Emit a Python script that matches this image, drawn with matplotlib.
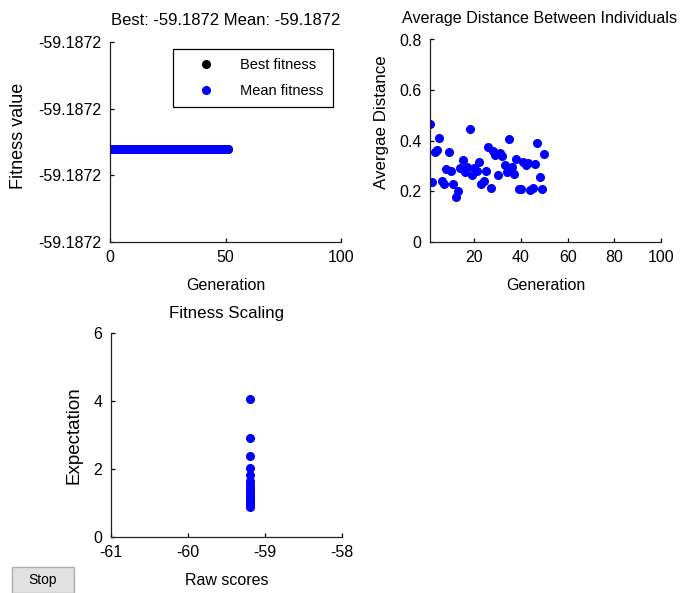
import numpy as np
import matplotlib
matplotlib.use("Agg")
from matplotlib import pyplot as plt
from matplotlib.patches import Rectangle
from matplotlib.ticker import FuncFormatter

plt.rcParams['font.family'] = ['Liberation Sans', 'DejaVu Sans']
plt.rcParams['font.size'] = 11.5
plt.rcParams['axes.unicode_minus'] = False

# fitness per generation (all the same value)
generations = np.arange(0, 52)
best_value = -59.187216
best_fitness = [best_value] * len(generations)
mean_fitness = [best_value] * len(generations)

# average distance between individuals, generations 1..50
dist_gen = np.arange(1, 51)
avg_distance = [0.468, 0.239, 0.356, 0.363, 0.410, 0.242, 0.230, 0.289, 0.357, 0.280,
                0.230, 0.176, 0.201, 0.293, 0.323, 0.276, 0.296, 0.445, 0.263, 0.294,
                0.280, 0.315, 0.229, 0.242, 0.281, 0.375, 0.212, 0.359, 0.342, 0.264,
                0.352, 0.340, 0.305, 0.276, 0.406, 0.297, 0.269, 0.327, 0.208, 0.208,
                0.315, 0.305, 0.311, 0.206, 0.212, 0.310, 0.393, 0.258, 0.208, 0.346]

# fitness scaling: raw score vs expectation
raw_score = -59.1872
expectation = [4.07, 2.90, 2.37, 2.03, 1.82, 1.66, 1.54, 1.44, 1.36, 1.29, 1.23,
               1.18, 1.13, 1.09, 1.05, 1.02, 0.99, 0.96, 0.94, 0.91, 0.89]

W, H = 681, 593
fig = plt.figure(figsize=(W / 100, H / 100), dpi=100)
fig.patch.set_facecolor('white')


def box(l, r, t, b):
    return [l / W, 1 - b / H, (r - l) / W, (b - t) / H]


def matlab_axes(ax):
    for s in ['top', 'right']:
        ax.spines[s].set_visible(False)
    for s in ['left', 'bottom']:
        ax.spines[s].set_linewidth(0.9)
        ax.spines[s].set_color('#222222')
    ax.tick_params(direction='in', length=3, width=0.9, pad=6, colors='black')


blue = '#0000ff'

# --- best / mean fitness
ax1 = fig.add_axes(box(110, 341, 42, 241.7))
ax1.plot(generations, best_fitness, 'o', color='black', ms=5.5, label='Best fitness')
ax1.plot(generations, mean_fitness, 'o', color=blue, ms=5.5, label='Mean fitness')
ax1.set_xlim(0, 100)
ax1.set_ylim(-59.18723, -59.18720)
ax1.set_xticks([0, 50, 100])
ax1.set_yticks([-59.18723, -59.18722, -59.18721, -59.18720])
ax1.yaxis.set_major_formatter(FuncFormatter(lambda v, p: '%.4f' % v))
matlab_axes(ax1)
ax1.set_title('Best: %.4f Mean: %.4f' % (best_fitness[-1], mean_fitness[-1]),
              pad=12, fontsize=12)
ax1.set_xlabel('Generation', labelpad=9)
ax1.set_ylabel('Fitness value', fontsize=13)
ax1.yaxis.set_label_coords(-0.36, 0.53)
leg = ax1.legend(loc='upper right', bbox_to_anchor=(0.965, 0.965), borderaxespad=0,
                 fancybox=False, edgecolor='black', framealpha=1, fontsize=10.5,
                 handlelength=3.3, handletextpad=0.7, borderpad=0.64, labelspacing=0.8)
leg.get_frame().set_linewidth(0.9)

# --- average distance
ax2 = fig.add_axes(box(430, 661, 39.5, 242))
ax2.plot(dist_gen, avg_distance, 'o', color=blue, ms=5.5)
ax2.set_xlim(1, 100)
ax2.set_ylim(0, 0.8)
ax2.set_xticks([20, 40, 60, 80, 100])
ax2.set_yticks([0, 0.2, 0.4, 0.6, 0.8])
ax2.yaxis.set_major_formatter(FuncFormatter(lambda v, p: '%g' % v))
matlab_axes(ax2)
ax2.set_title('Average Distance Between Individuals', pad=12, fontsize=11.6, x=0.476)
ax2.set_xlabel('Generation', labelpad=9)
ax2.set_ylabel('Avergae Distance', fontsize=12.2)
ax2.yaxis.set_label_coords(-0.177, 0.59)

# --- fitness scaling
ax3 = fig.add_axes(box(110.7, 342, 333, 537))
ax3.plot([raw_score] * len(expectation), expectation, 'o', color=blue, ms=5.5)
ax3.set_xlim(-61, -58)
ax3.set_ylim(0, 6)
ax3.set_xticks([-61, -60, -59, -58])
ax3.set_yticks([0, 2, 4, 6])
matlab_axes(ax3)
ax3.set_title('Fitness Scaling', pad=11, fontsize=12.2)
ax3.set_xlabel('Raw scores', labelpad=9)
ax3.set_ylabel('Expectation', fontsize=13.5)
ax3.yaxis.set_label_coords(-0.12, 0.5)

# --- Stop button
fig.patches.append(Rectangle((12 / W, 0), 62 / W, 26 / H, transform=fig.transFigure,
                             facecolor='#e1e1e1', edgecolor='#adadad', linewidth=1))
fig.text(43 / W, 1 - 580 / H, 'Stop', ha='center', va='center', fontsize=10)

fig.savefig('out.png', dpi=100)
